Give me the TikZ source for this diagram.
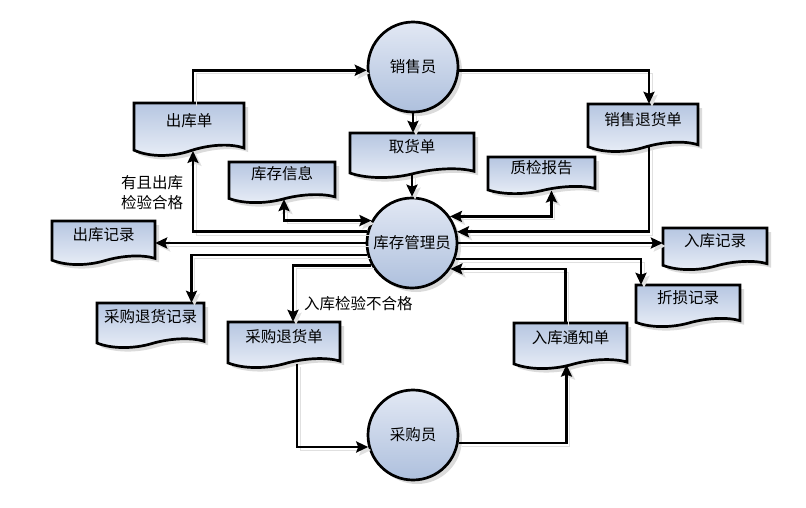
\documentclass[tikz,border=0pt]{standalone}
\usepackage{fontspec}
\setmainfont{Noto Sans CJK SC}
\usetikzlibrary{calc,arrows.meta,shadows}
\definecolor{docTop}{RGB}{182,198,225}
\definecolor{docBot}{RGB}{233,238,247}
\definecolor{procTop}{RGB}{226,232,244}
\definecolor{procBot}{RGB}{174,192,221}
\newcommand{\dfont}{\fontsize{15.5}{20}\selectfont}
\tikzset{
  dproc/.style={circle, draw=black, line width=2.7pt, minimum size=90pt, inner sep=0pt,
                top color=procTop, bottom color=procBot, font=\dfont,
                drop shadow={shadow xshift=4pt, shadow yshift=-4pt, fill=black!14, opacity=1}},
  ddoc/.style ={draw=black, line width=2.7pt, line join=miter, top color=docTop, bottom color=docBot,
                drop shadow={shadow xshift=4pt, shadow yshift=-4pt, fill=black!14, opacity=1}},
  dtext/.style={rectangle, inner sep=0pt, text height=13pt, text depth=14pt, font=\dfont},
  dflow/.style={-{Stealth[length=12pt, width=11pt, inset=2pt]}, line width=2.7pt,
                preaction={draw=black!12, transform canvas={shift={(3pt,-3pt)}}}},
  dboth/.style={dflow, {Stealth[length=12pt, width=11pt, inset=2pt]}-{Stealth[length=12pt, width=11pt, inset=2pt]}},
  dnote/.style={font=\dfont, align=center, inner sep=1pt},
}
% document symbol: name, left, top, width, depth of the wave, text
\newcommand{\docbox}[6]{%
  \begin{scope}[shift={(#2,#3)}]
    \filldraw[ddoc] (0,0) -- (#4,0) -- (#4,{0.85*#5})
      .. controls ({0.88*#4},{0.76*#5}) and ({0.68*#4},{0.78*#5}) .. ({0.5*#4},{0.91*#5})
      .. controls ({0.35*#4},{1.01*#5}) and ({0.15*#4},{1.03*#5}) .. (0,{0.89*#5}) -- cycle;
    \node[dtext, minimum width=#4pt, minimum height=0.9*#5pt] (#1) at ({#4/2},{0.45*#5}) {#6};
  \end{scope}}

\begin{document}
\begin{tikzpicture}[x=1pt, y=-1pt]
  \useasboundingbox (0,0) rectangle (806,507);
  % processes
  \node[dproc] (sales)  at (413,67)  {销售员};
  \node[dproc] (keeper) at (412,243) {库存管理员};
  \node[dproc] (buyer)  at (413,435) {采购员};
  % documents
  \docbox{outslip}{134}{103}{110}{53}{出库单}
  \docbox{pickslip}{350}{133}{124}{45}{取货单}
  \docbox{stockinfo}{229}{162}{106}{41}{库存信息}
  \docbox{qcreport}{488}{157}{107}{37}{质检报告}
  \docbox{salesret}{588}{104}{110}{48}{销售退货单}
  \docbox{outlog}{52}{221}{103}{44}{出库记录}
  \docbox{inlog}{663}{228}{104}{42}{入库记录}
  \docbox{purretlog}{97}{303}{107}{45}{采购退货记录}
  \docbox{losslog}{636}{285}{104}{42}{折损记录}
  \docbox{purret}{228}{322}{112}{46}{采购退货单}
  \docbox{innotice}{514}{323}{113}{46}{入库通知单}
  % flows round the sales clerk
  \draw[dflow] ($(outslip.north)+(4,0)$) |- (sales.184);
  \draw[dflow] (sales.356) -| ($(salesret.north)+(6,0)$);
  \draw[dflow] (sales.south) -- (sales.south |- pickslip.north);
  \draw[dflow] (pickslip.south) -- (keeper.north);
  % flows round the stock keeper
  \draw[dflow] (keeper.166) -| ($(outslip.south)+(4,0)$);
  \draw[dboth] (keeper.151) -| ($(stockinfo.south)+(2,0)$);
  \draw[dboth] (keeper.35) -| ($(qcreport.south)+(10,0)$);
  \draw[dflow] ($(salesret.south)+(6,0)$) |- (keeper.14);
  \draw[dflow] (keeper.east) -- (keeper.east -| inlog.west);
  \draw[dflow] (keeper.west) -- (keeper.west -| outlog.east);
  \draw[dflow] (keeper.195) -| ($(purretlog.north)+(41,0)$);
  \draw[dflow] (keeper.209) -| ($(purret.north)+(9,0)$);
  \draw[dflow] (keeper.340) -| ($(losslog.north)+(-47,0)$);
  \draw[dflow] ($(innotice.north)+(-5,0)$) |- (keeper.326);
  % flows round the buyer
  \draw[dflow] ($(purret.south)+(13,0)$) |- (buyer.195);
  \draw[dflow] (buyer.350) -| ($(innotice.south)+(-4,0)$);
  % conditions
  \node[dnote] (okcond) at (152,193) {有且出库\\检验合格};
  \node[dnote, anchor=west] (failcond) at (303,304) {入库检验不合格};
\end{tikzpicture}
\end{document}
